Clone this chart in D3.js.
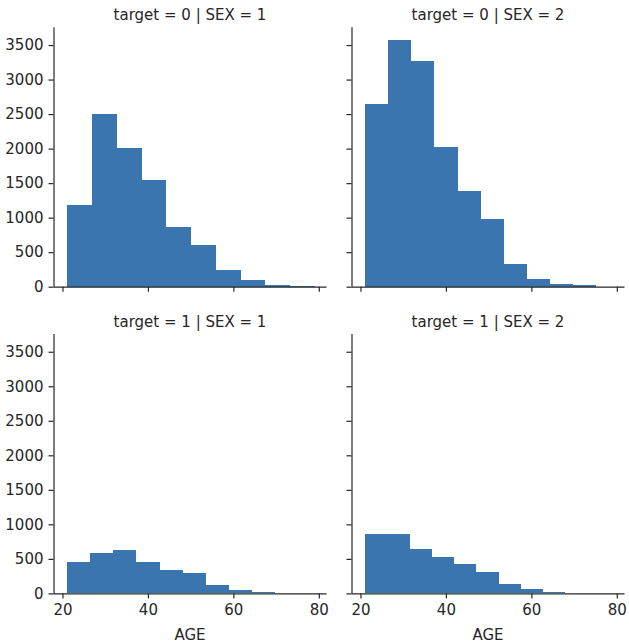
<!DOCTYPE html>
<html lang="en">
<head>
    <meta charset="utf-8">
    <title>AGE histograms</title>
    <script src="https://d3js.org/d3.v7.min.js" charset="utf-8"></script>
    <style>
        body { margin: 0; background: #fff; }
        text { font-family: "DejaVu Sans", sans-serif; fill: #262626; }
    </style>
</head>
<body>

    <script>

    // facet titles and histogram counts (10 bins each)
    var titles = ["target = 0 | SEX = 1", "target = 0 | SEX = 2", "target = 1 | SEX = 1", "target = 1 | SEX = 2"]
    var binRanges = [[21, 79], [21, 75], [21, 75], [21, 73]]
    var counts00 = [1180, 2500, 2010, 1540, 870, 600, 245, 90, 20, 4]
    var counts01 = [2650, 3575, 3275, 2030, 1380, 980, 335, 110, 43, 20]
    var counts10 = [450, 580, 625, 450, 340, 290, 116, 48, 22, 4]
    var counts11 = [855, 855, 650, 520, 425, 315, 136, 66, 24, 3]
    var yTicks = [0, 500, 1000, 1500, 2000, 2500, 3000, 3500]
    var xTicks = [20, 40, 60, 80]
    var xLabel = "AGE"

    var allCounts = [counts00, counts01, counts10, counts11]

    var W = 629, H = 644
    var colX = [53.5, 351.5]
    var rowY = [27.3, 334]
    var pw = 273, ph = 259.4
    var axisColor = "#262626"
    var barColor = "#3b75af"

    var svg = d3.select("body").append("svg").attr("width", W).attr("height", H)

    allCounts.forEach(function(counts, i) {
        var row = Math.floor(i / 2), col = i % 2
        var x0 = colX[col], y0 = rowY[row]

        var xScale = d3.scaleLinear().domain([17.9, 81.8]).range([x0, x0 + pw])
        var yScale = d3.scaleLinear().domain([0, 3757]).range([y0 + ph, y0])

        var lo = binRanges[i][0], hi = binRanges[i][1]
        var step = (hi - lo) / counts.length
        var bins = counts.map(function(c, k) {
            return {x0: lo + k * step, x1: lo + (k + 1) * step, n: c}
        })

        var g = svg.append("g")

        g.selectAll("rect").data(bins).enter().append("rect")
            .attr("x", function(d) { return xScale(d.x0) })
            .attr("width", function(d) { return xScale(d.x1) - xScale(d.x0) + 0.5 })
            .attr("y", function(d) { return yScale(d.n) })
            .attr("height", function(d) { return yScale(0) - yScale(d.n) })
            .attr("fill", barColor)
            .attr("shape-rendering", "crispEdges")

        var xAxis = d3.axisBottom(xScale).tickValues(xTicks).tickSize(5).tickPadding(6).tickFormat(d3.format("d"))
        if (row === 0) xAxis.tickFormat("")
        var gx = g.append("g").attr("transform", "translate(0," + (y0 + ph) + ")").call(xAxis)

        var yAxis = d3.axisLeft(yScale).tickValues(yTicks).tickSize(5).tickPadding(5).tickFormat(d3.format("d"))
        if (col === 1) yAxis.tickFormat("")
        var gy = g.append("g").attr("transform", "translate(" + x0 + ",0)").call(yAxis)

        ;[gx, gy].forEach(function(a) {
            a.select(".domain").attr("stroke", axisColor).attr("stroke-width", 1.2)
            a.selectAll(".tick line").attr("stroke", axisColor).attr("stroke-width", 1.2)
            a.selectAll(".tick text").attr("font-size", 15).attr("font-family", "DejaVu Sans").attr("fill", axisColor)
        })
        // spines without outer ticks
        gx.select(".domain").attr("d", "M" + x0 + ",0.5H" + (x0 + pw))
        gy.select(".domain").attr("d", "M0.5," + (y0 + ph) + "V" + y0)

        g.append("text")
            .attr("x", x0 + pw / 2).attr("y", y0 - 7)
            .attr("text-anchor", "middle").attr("font-size", 15)
            .text(titles[i])

        if (row === 1) {
            g.append("text")
                .attr("x", x0 + pw / 2).attr("y", 640)
                .attr("text-anchor", "middle").attr("font-size", 15)
                .text(xLabel)
        }
    })

    </script>

</body>
</html>
